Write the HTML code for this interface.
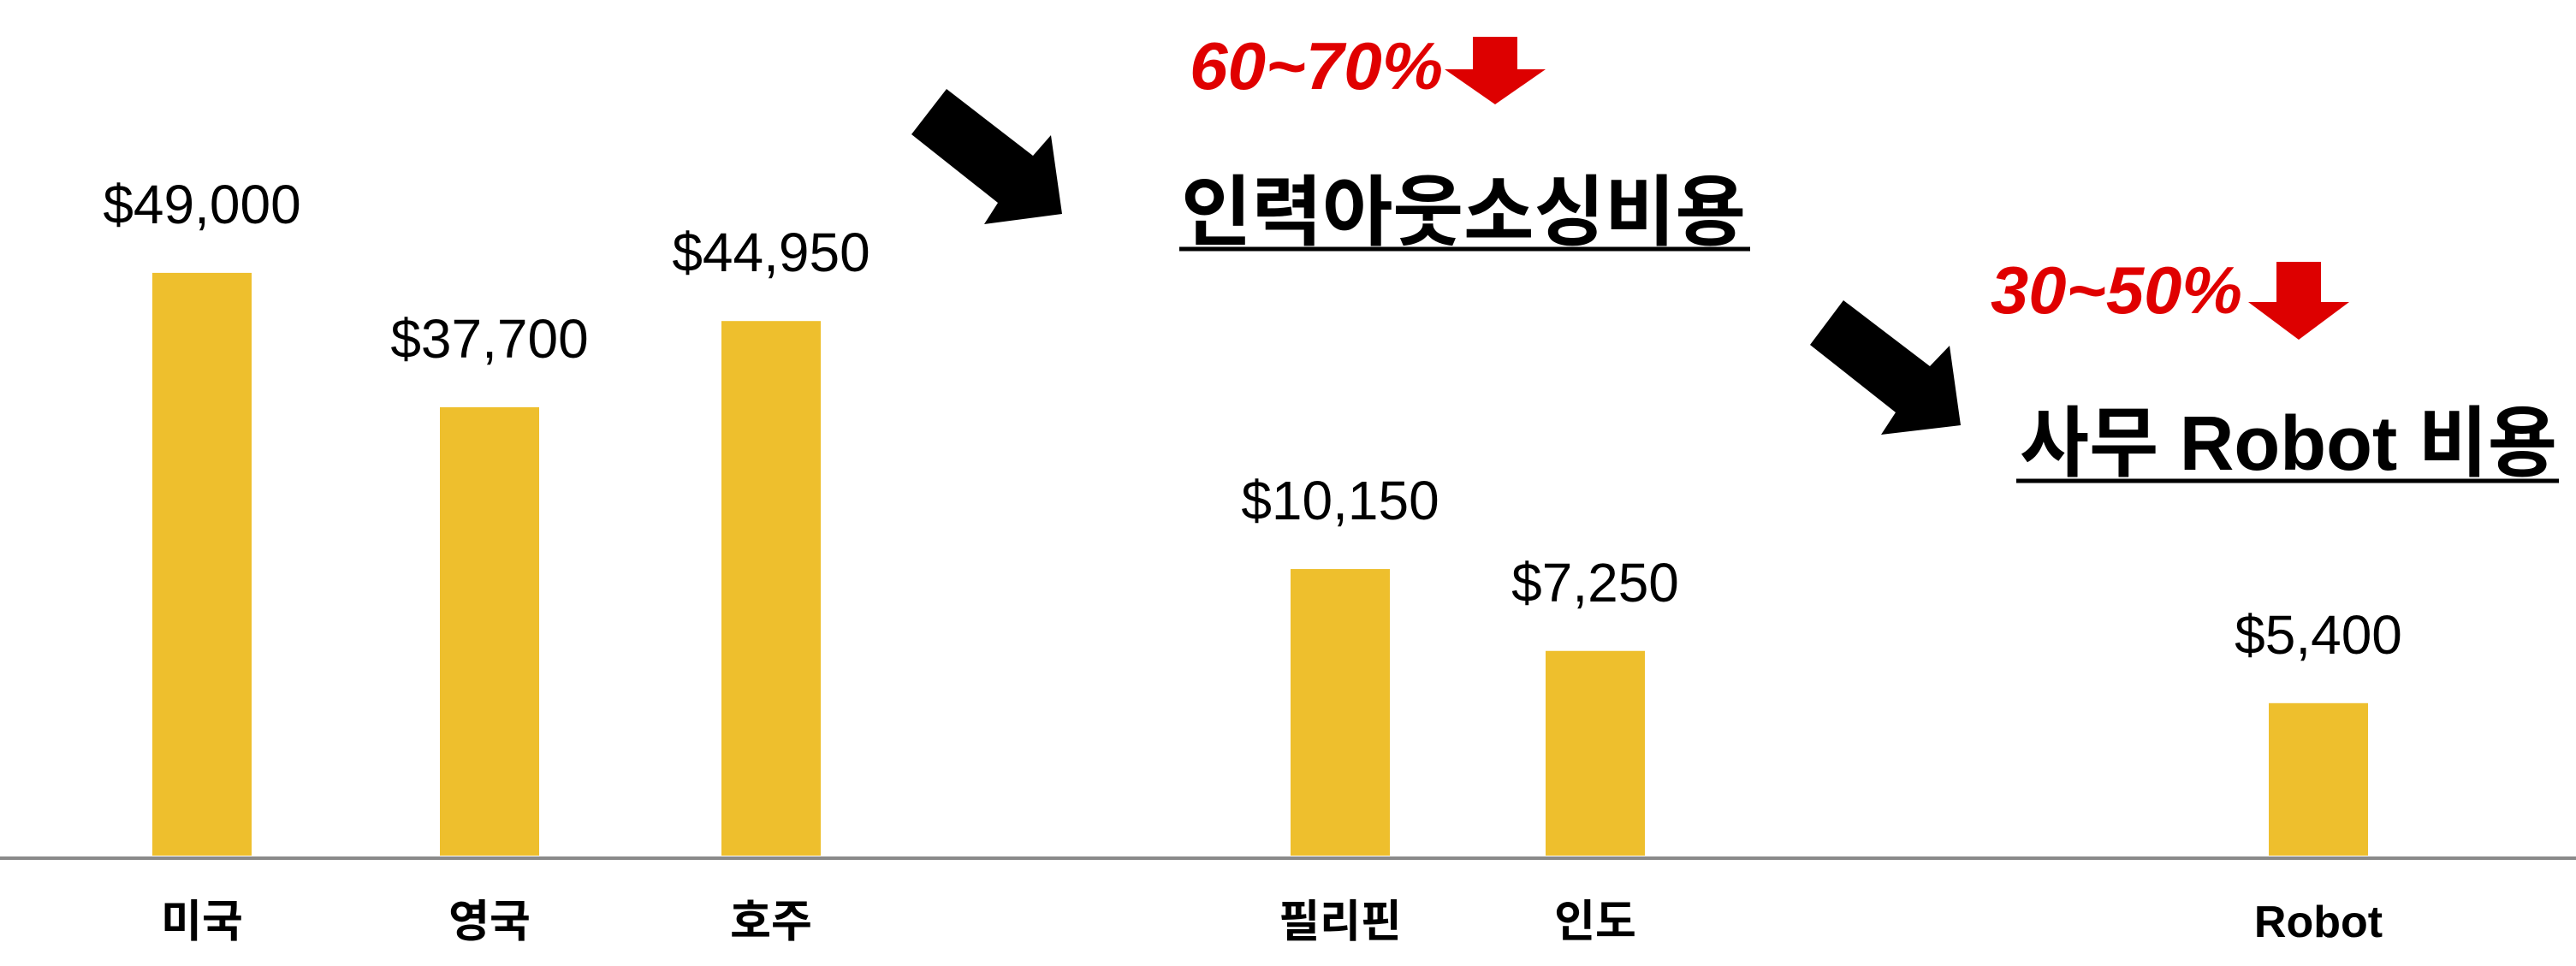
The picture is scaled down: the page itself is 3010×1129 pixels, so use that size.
<!DOCTYPE html>
<html><head><meta charset="utf-8"><style>
html,body{margin:0;padding:0;background:#fff;}
svg{display:block;}
</style></head><body>
<svg id="chart" width="3010" height="1129" viewBox="0 0 3010 1129" xmlns="http://www.w3.org/2000/svg" font-family="'Liberation Sans','Noto Sans CJK KR',sans-serif">
  <line x1="0" y1="1003" x2="3010" y2="1003" stroke="#8a8a8a" stroke-width="4"/>
  <g id="bars"></g>
  <g id="labels"></g>

  <polygon points="1106,104 1207,182 1228,158 1241,250 1150,262 1166,237 1065,157" fill="#000"/>
  <polygon points="2154,351 2255,428 2278,404 2291,497 2198,508 2215,482 2115,403" fill="#000"/>

  <text x="1380" y="279" font-size="90" font-weight="bold" fill="#000" textLength="660" lengthAdjust="spacingAndGlyphs">인력아웃소싱비용</text>
  <line x1="1378" y1="291" x2="2045" y2="291" stroke="#000" stroke-width="5"/>
  <text x="2360" y="549" font-size="90" font-weight="bold" fill="#000" textLength="628" lengthAdjust="spacingAndGlyphs">사무 Robot 비용</text>
  <line x1="2356" y1="562" x2="2990" y2="562" stroke="#000" stroke-width="5"/>

  <text x="1390" y="104" font-size="78" font-weight="bold" font-style="italic" fill="#e00000" textLength="296" lengthAdjust="spacingAndGlyphs">60~70%</text>
  <polygon points="1721,43 1773,43 1773,81 1806,81 1747,122 1688,81 1721,81" fill="#dd0000"/>
  <text x="2326" y="366" font-size="78" font-weight="bold" font-style="italic" fill="#e00000" textLength="294" lengthAdjust="spacingAndGlyphs">30~50%</text>
  <polygon points="2660,306 2712,306 2712,353 2745,353 2686,397 2627,353 2660,353" fill="#dd0000"/>
</svg>
<script>
const categories = ['미국','영국','호주','필리핀','인도','Robot'];
const values = [49000, 37700, 44950, 10150, 7250, 5400];
const valueLabels = ['$49,000','$37,700','$44,950','$10,150','$7,250','$5,400'];
const groups = [0, 0, 0, 1, 1, 1];
const categoryNames = ['bar-usa','bar-uk','bar-australia','bar-philippines','bar-india','bar-robot'];

const NS = 'http://www.w3.org/2000/svg';
const baseY = 1000;
const slotCenters = [236, 572, 901, 1566, 1864, 2709];
const barW = 116;
const groupScale = [0.0139, 0.0330]; // px per dollar, separate panels
function yScale(v, g){ return baseY - v * groupScale[g]; }
const bars = document.getElementById('bars');
const labels = document.getElementById('labels');
categories.forEach((c,i)=>{
  const cx = slotCenters[i];
  const top = yScale(values[i], groups[i]);
  const r = document.createElementNS(NS,'rect');
  r.setAttribute('x', cx - barW/2);
  r.setAttribute('y', top);
  r.setAttribute('width', barW);
  r.setAttribute('height', baseY - top);
  r.setAttribute('fill', '#EEBF2D');
  
  
  bars.appendChild(r);

  const t = document.createElementNS(NS,'text');
  t.setAttribute('x', cx);
  t.setAttribute('y', top - 58);
  t.setAttribute('text-anchor','middle');
  t.setAttribute('font-size','64');
  t.setAttribute('fill','#000');
  t.textContent = valueLabels[i];
  
  
  labels.appendChild(t);

  const l = document.createElementNS(NS,'text');
  l.setAttribute('x', cx);
  l.setAttribute('y', 1095);
  l.setAttribute('text-anchor','middle');
  l.setAttribute('font-size','52');
  l.setAttribute('font-weight','bold');
  l.setAttribute('fill','#000');
  l.textContent = c;
  
  
  labels.appendChild(l);
});
</script>
</body></html>
